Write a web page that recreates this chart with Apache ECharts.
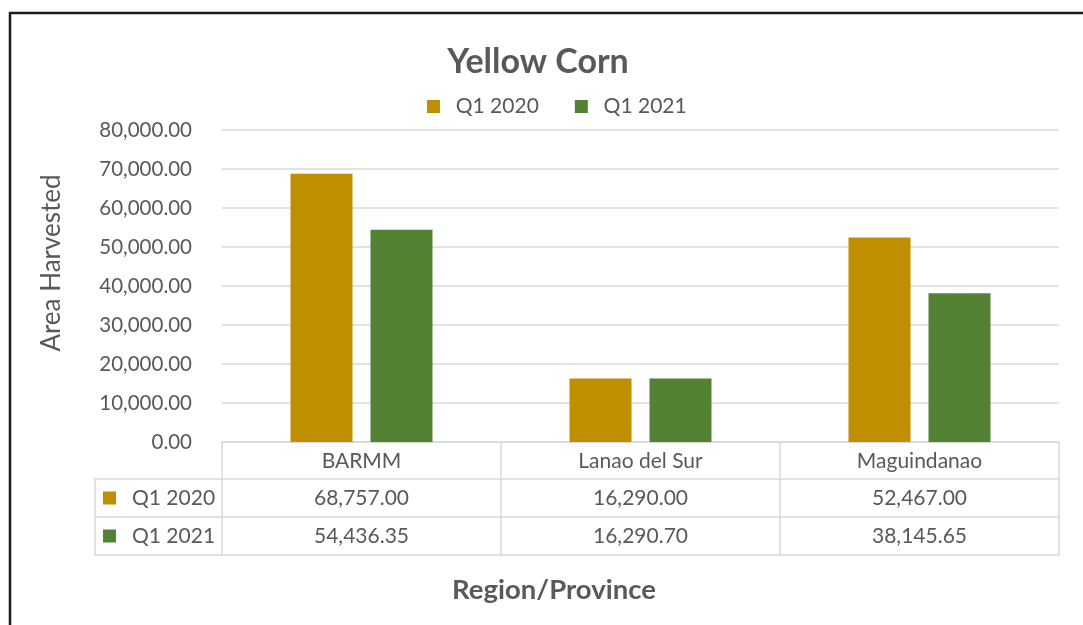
<!DOCTYPE html>
<html lang="en">
<head>
    <meta charset="UTF-8">
    <script src="https://cdn.jsdelivr.net/npm/echarts@6/dist/echarts.min.js"></script>
    <title>Yellow Corn</title>
    <style>
        html, body { margin: 0; padding: 0; background: #fff; }
        #chart { width: 1083px; height: 625px; }
    </style>
</head>
<body>
<div id="chart"></div>
<script>
    const categories = ['BARMM', 'Lanao del Sur', 'Maguindanao']
    const seriesNames = ['Q1 2020', 'Q1 2021']
    const q1_2020 = [68757.00, 16290.00, 52467.00]
    const q1_2021 = [54436.35, 16290.70, 38145.65]
    const yMin = 0
    const yMax = 80000
    const yStep = 10000

    const colors = ['#BF8F00', '#548235']
    const textColor = '#595959'
    const lineColor = '#D9D9D9'
    const font = 'Lato'

    function fmt(v) {
        return v.toLocaleString('en-US', {minimumFractionDigits: 2, maximumFractionDigits: 2})
    }

    // one axis per row of the data table, stacked under the plot
    function tableAxis(labels, offset, showLabel) {
        return {
            type: 'category',
            gridIndex: 0,
            position: 'bottom',
            offset: offset,
            data: labels,
            axisLine: {show: true, lineStyle: {color: lineColor, width: 1.5}},
            axisTick: {show: false},
            axisLabel: {show: showLabel, color: textColor, fontFamily: font, fontSize: 21,
                margin: 19, verticalAlign: 'middle'}
        }
    }

    const option = {
        animation: false,
        graphic: [
            {type: 'rect', shape: {x: 10, y: 13, width: 1200, height: 800},
                style: {fill: 'none', stroke: '#1a1a1a', lineWidth: 2.5}, silent: true},
            {type: 'text', x: 538, y: 62, style: {text: 'Yellow Corn', align: 'center', verticalAlign: 'middle',
                fill: textColor, font: 'bold 34px ' + font}},
            {type: 'text', x: 52, y: 263, rotation: Math.PI / 2, style: {text: 'Area Harvested', align: 'center',
                verticalAlign: 'middle', fill: textColor, font: '26px ' + font}},
            {type: 'text', x: 554, y: 590, style: {text: 'Region/Province', align: 'center', verticalAlign: 'middle',
                fill: textColor, font: 'bold 27.5px ' + font}}
        ],
        legend: {
            data: seriesNames,
            left: 422,
            top: 91,
            itemWidth: 13,
            itemHeight: 13,
            itemGap: 36,
            icon: 'rect',
            formatter: '  {name}',
            textStyle: {color: textColor, fontFamily: font, fontSize: 21}
        },
        grid: [
            {left: 222, right: 24, top: 130, bottom: 183},
            {left: 95, width: 127, top: 479, height: 76}
        ],
        xAxis: [
            {
                type: 'category',
                gridIndex: 0,
                data: categories,
                axisLine: {show: true, lineStyle: {color: lineColor, width: 1.5}},
                axisTick: {show: true, length: 113, lineStyle: {color: lineColor, width: 1.5}},
                axisLabel: {color: textColor, fontFamily: font, fontSize: 21, margin: 19, verticalAlign: 'middle'}
            },
            tableAxis(q1_2020.map(fmt), 37, true),
            tableAxis(q1_2021.map(fmt), 75, true),
            tableAxis(categories, 113, false),
            {type: 'category', gridIndex: 1, data: [''], show: false}
        ],
        yAxis: [
            {
                type: 'value',
                gridIndex: 0,
                min: yMin,
                max: yMax,
                interval: yStep,
                axisLine: {show: false},
                axisTick: {show: false},
                axisLabel: {color: textColor, fontFamily: font, fontSize: 20.5, margin: 30, formatter: fmt},
                splitLine: {lineStyle: {color: lineColor, width: 1.5}}
            },
            {
                type: 'category',
                gridIndex: 1,
                inverse: true,
                data: seriesNames,
                axisLine: {show: true, lineStyle: {color: lineColor, width: 1.5}},
                axisTick: {show: false},
                splitLine: {show: true, lineStyle: {color: lineColor, width: 1.5}},
                axisLabel: {
                    inside: true,
                    margin: 8,
                    formatter: (v, i) => '{s' + i + '|}{t|' + v + '}',
                    rich: {
                        s0: {backgroundColor: colors[0], width: 13, height: 13},
                        s1: {backgroundColor: colors[1], width: 13, height: 13},
                        t: {color: textColor, fontFamily: font, fontSize: 21, padding: [0, 0, 0, 16]}
                    }
                }
            }
        ],
        series: [
            {name: seriesNames[0], type: 'bar', xAxisIndex: 0, yAxisIndex: 0, data: q1_2020,
                barWidth: 62, barGap: '29%', itemStyle: {color: colors[0]}},
            {name: seriesNames[1], type: 'bar', xAxisIndex: 0, yAxisIndex: 0, data: q1_2021,
                barWidth: 62, barGap: '29%', itemStyle: {color: colors[1]}}
        ]
    }

    var chart = echarts.init(document.getElementById('chart'))
    chart.setOption(option)
</script>
</body>
</html>
